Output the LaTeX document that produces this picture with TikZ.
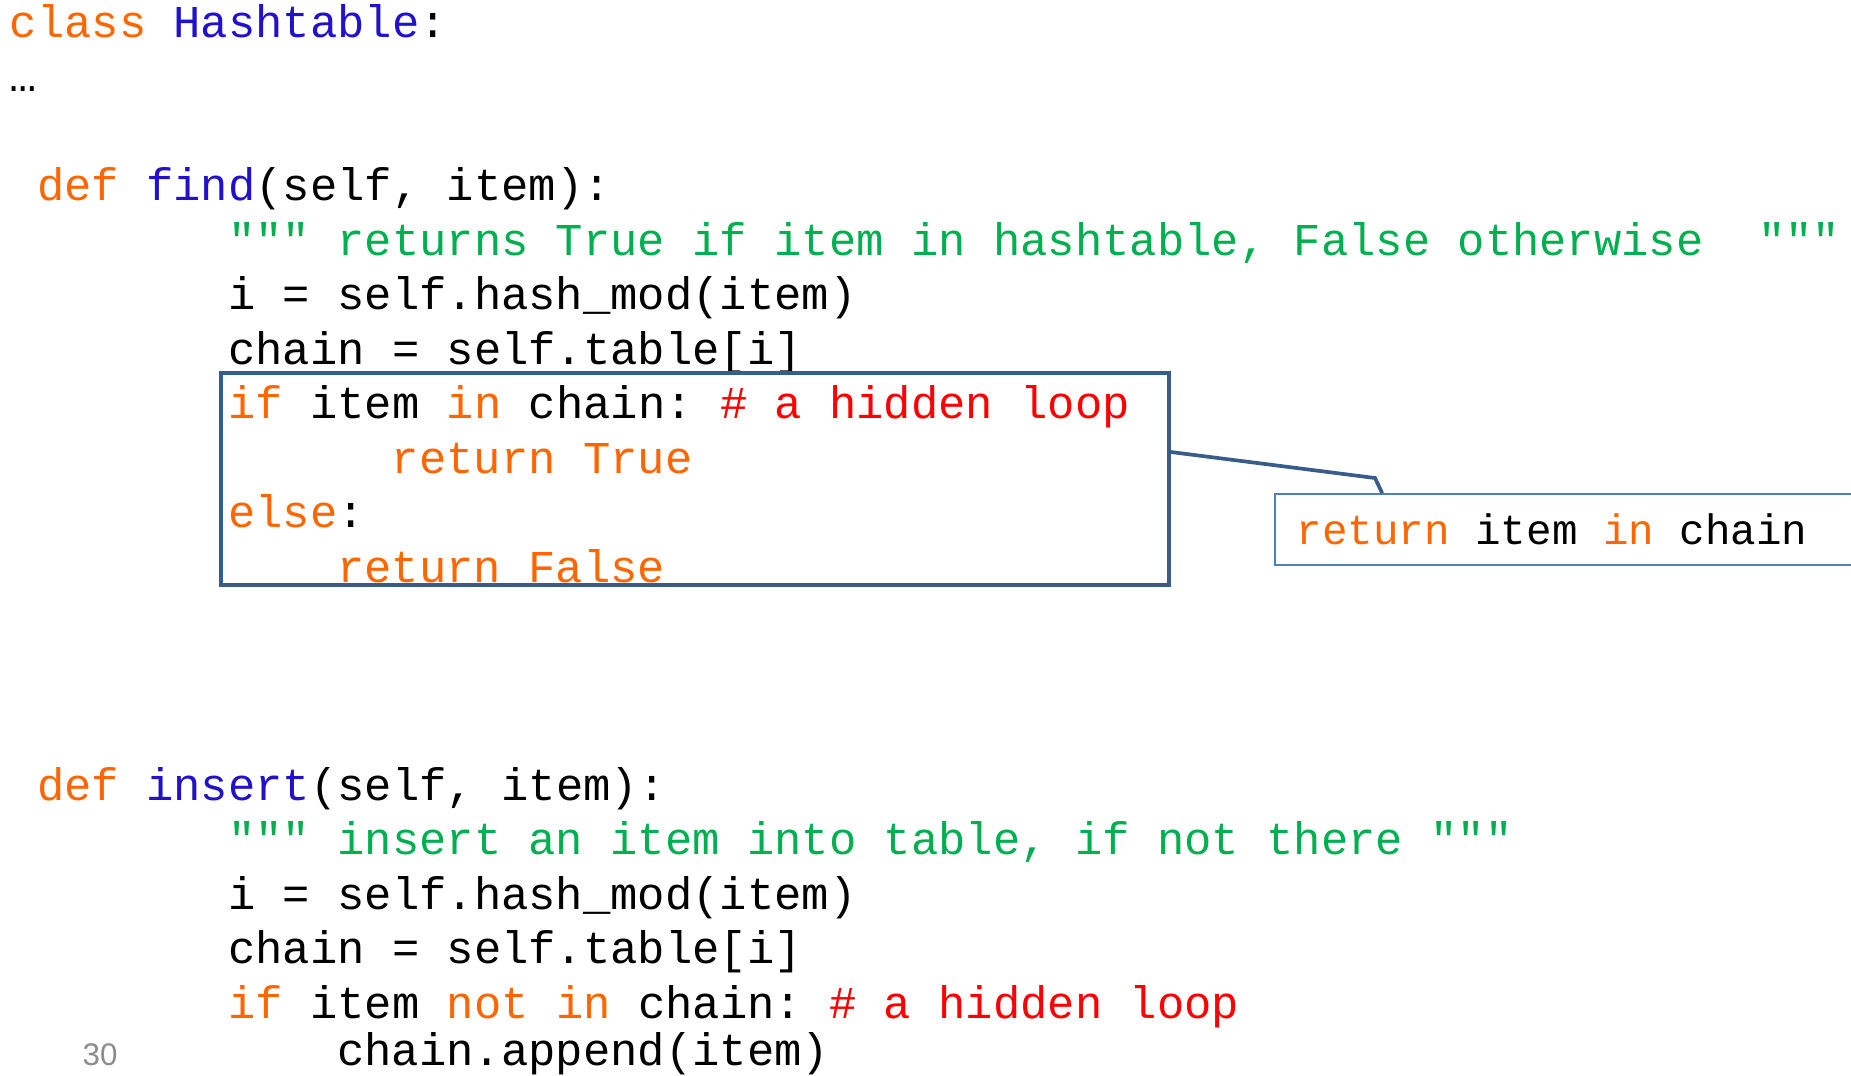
\documentclass[tikz,border=0pt]{standalone}
\usepackage{fontspec}
\setmainfont{Liberation Sans}
\newfontfamily\codefont{Liberation Mono}
\usetikzlibrary{calc,fit}
\definecolor{kwcol}{RGB}{255,102,0}
\definecolor{defcol}{RGB}{34,17,204}
\definecolor{strcol}{RGB}{0,176,80}
\definecolor{comcol}{RGB}{255,0,0}
\definecolor{boxcol}{RGB}{56,93,138}
\definecolor{callcol}{RGB}{79,129,189}
\newcommand{\kwd}[1]{\textcolor{kwcol}{#1}}
\newcommand{\defname}[1]{\textcolor{defcol}{#1}}
\newcommand{\docstr}[1]{\textcolor{strcol}{#1}}
\newcommand{\cmnt}[1]{\textcolor{comcol}{#1}}
\begin{document}
\begin{tikzpicture}[x=0.01cm, y=-0.01cm,
    code/.style={anchor=base west, inner sep=0pt, font=\codefont\fontsize{12.95}{15}\selectfont\frenchspacing},
    loopbox/.style={draw=boxcol, line width=1.05pt, inner sep=0pt},
    callbox/.style={draw=callcol, line width=0.45pt, inner sep=0pt},
    pointer/.style={draw=boxcol, line width=1.05pt}]
  \clip (0,0) rectangle (1851,1075);
  \fill[white] (0,0) rectangle (1851,1075);
  \node[code] (cls) at (9,37) {\kwd{class} \defname{Hashtable}:};
  \node[code] (dots) at (9,91.5) {…};
  \node[code] (findhead) at (36.3,200.5) {\kwd{def} \defname{find}(self, item):};
  \node[code] (finddoc) at (227.4,255) {\docstr{""" returns True if item in hashtable, False otherwise~~"""}};
  \node[code] (findhash) at (227.4,309.5) {i = self.hash\_mod(item)};
  \node[code] (findchain) at (227.4,364) {chain = self.table[i]};
  \node[code] (findif) at (227.4,418.5) {\kwd{if} item \kwd{in} chain: \cmnt{\# a hidden loop}};
  \node[code] (findtrue) at (391.2,473) {\kwd{return True}};
  \node[code] (findelse) at (227.4,527.5) {\kwd{else}:};
  \node[code] (findfalse) at (336.6,582) {\kwd{return False}};
  \node[code] (inshead) at (36.3,800) {\kwd{def} \defname{insert}(self, item):};
  \node[code] (insdoc) at (227.4,854.5) {\docstr{""" insert an item into table, if not there """}};
  \node[code] (inshash) at (227.4,909) {i = self.hash\_mod(item)};
  \node[code] (inschain) at (227.4,963.5) {chain = self.table[i]};
  \node[code] (insif) at (227.4,1018) {\kwd{if} item \kwd{not in} chain: \cmnt{\# a hidden loop}};
  \node[code] (insappend) at (336.6,1065) {chain.append(item)};
  \coordinate (boxnw) at (221,373);
  \coordinate (boxse) at (1169,585);
  \node[loopbox, fit=(boxnw)(boxse)] (loopbox) {};
  \coordinate (callnw) at (1275,494);
  \coordinate (callse) at (1900,565);
  \node[callbox, fit=(callnw)(callse)] (callout) {};
  \node[code, font=\codefont\fontsize{12.1}{14}\selectfont] (calltext) at (1296,544.5) {\kwd{return} item \kwd{in} chain};
  \coordinate (elbow) at (1375,478);
  \draw[pointer] ($(loopbox.east)+(0,-27)$) -- (elbow) -- ($(callout.north west)+(108,0)$);
  \node[anchor=base west, inner sep=0pt, text=black!45, font=\fontsize{8.9}{10}\selectfont] (pagenum) at (82,1065) {30};
\end{tikzpicture}
\end{document}
